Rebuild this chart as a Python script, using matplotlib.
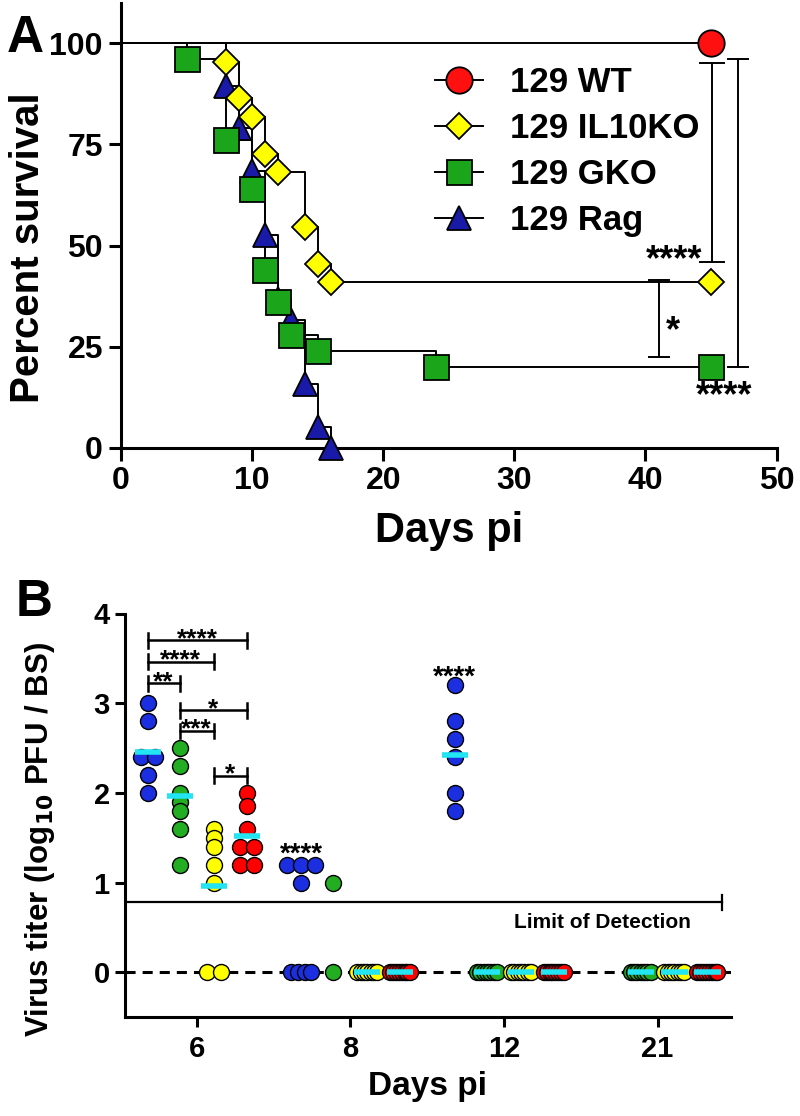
import numpy as np
import matplotlib
matplotlib.use('Agg')
import matplotlib.pyplot as plt
from matplotlib.lines import Line2D

# ---------------- Panel A data (Kaplan-Meier survival) ----------------
wt_days = [0, 45]
wt_surv = [100, 100]
il10_days = [0, 8, 9, 10, 11, 12, 14, 15, 16, 45]
il10_surv = [100, 95.45, 86.36, 81.82, 72.73, 68.18, 54.55, 45.45, 40.91, 40.91]
gko_days = [0, 5, 8, 10, 11, 12, 13, 15, 24, 45]
gko_surv = [100, 96, 76, 64, 44, 36, 28, 24, 20, 20]
rag_days = [0, 8, 9, 10, 11, 12, 13, 14, 15, 16]
rag_surv = [100, 89.47, 78.95, 68.42, 52.63, 36.84, 31.58, 15.79, 5.26, 0]
series_names = ['129 WT', '129 IL10KO', '129 GKO', '129 Rag']

# significance brackets (panel A)
a_sig_x = [45.07, 47.05, 41.03]
a_sig_lo = [45.9, 19.9, 22.4]
a_sig_hi = [95.2, 96.0, 41.5]
a_sig_text = ['****', '****', '*']
a_sig_text_x = [42.2, 45.98, 42.1]
a_sig_text_y = [48.9, 15.1, 31.3]

# ---------------- Panel B data (virus titer) ----------------
days_B = ['6', '8', '12', '21']
titer_rag = [[3.0, 2.8, 2.4, 2.4, 2.2, 2.0],
             [1.2, 1.2, 1.2, 1.0, 0, 0, 0, 0],
             [3.2, 2.8, 2.6, 2.4, 2.0, 1.8],
             []]
titer_gko = [[2.5, 2.3, 2.0, 1.9, 1.8, 1.6, 1.2],
             [1.0, 0],
             [0, 0, 0, 0, 0, 0, 0],
             [0, 0, 0, 0, 0, 0, 0]]
titer_il10 = [[1.6, 1.5, 1.4, 1.2, 1.0, 0, 0],
              [0, 0, 0, 0, 0, 0, 0],
              [0, 0, 0, 0, 0, 0, 0],
              [0, 0, 0, 0, 0, 0, 0]]
titer_wt = [[2.0, 1.85, 1.6, 1.4, 1.4, 1.2, 1.2],
            [0, 0, 0, 0, 0, 0, 0, 0],
            [0, 0, 0, 0, 0, 0, 0, 0],
            [0, 0, 0, 0, 0, 0, 0, 0]]
mean_rag = [2.45, None, 2.42, None]
mean_gko = [1.97, None, 0, 0]
mean_il10 = [0.96, 0, 0, 0]
mean_wt = [1.52, 0, 0, 0]
limit_of_detection = 0.78

# B significance (group index pairs at day 6)
b_sig_pairs = [(0, 3), (0, 2), (0, 1), (1, 3), (1, 2), (2, 3)]
b_sig_y = [3.70, 3.46, 3.22, 2.92, 2.69, 2.19]
b_sig_text = ['****', '****', '**', '*', '***', '*']
b_star_day = [1, 2]
b_star_y = [1.40, 3.38]

# ---------------- style ----------------
plt.rcParams['font.family'] = ['Liberation Sans', 'DejaVu Sans']
plt.rcParams['font.weight'] = 'bold'
plt.rcParams['axes.labelweight'] = 'bold'

W, H = 800, 1116
fig = plt.figure(figsize=(W / 100, H / 100), dpi=100)

def frac(l, t, r, b):
    return [l / W, 1 - b / H, (r - l) / W, (b - t) / H]

def stars(ax, x, y, t, size):
    # place asterisk glyphs so that their visual centre sits at (x, y)
    ax.annotate(t, (x, y), xytext=(0, -0.55 * size), textcoords='offset points',
                ha='center', va='baseline', fontsize=size, fontweight='bold',
                zorder=8, annotation_clip=False)

# ================= Panel A =================
axA = fig.add_axes(frac(121, 2.8, 776.6, 447.8))
axA.set_xlim(0, 50)
axA.set_ylim(0, 110)
for s in ['top', 'right']:
    axA.spines[s].set_visible(False)
for s in ['left', 'bottom']:
    axA.spines[s].set_linewidth(2.2)
axA.set_xticks([0, 10, 20, 30, 40, 50])
axA.set_yticks([0, 25, 50, 75, 100])
axA.tick_params(axis='both', length=9, width=2.2, labelsize=23, pad=4)

colsA = ['#ff1010', '#ffff00', '#1aa51a', '#1a1aa8']
mk = ['o', 'D', 's', '^']
ms = [19, 13.5, 18, 17]
datasets = [(wt_days, wt_surv), (il10_days, il10_surv), (gko_days, gko_surv), (rag_days, rag_surv)]

for d, s in datasets:
    axA.plot(d, s, drawstyle='steps-post', color='black', lw=1.4, zorder=2, clip_on=False)

zorders = [6, 5, 4, 3]
for (d, s), c, m, z, sz in zip(datasets, colsA, mk, zorders, ms):
    axA.plot(d[1:], s[1:], ls='none', marker=m, ms=sz, mfc=c, mec='black', mew=1.3,
             zorder=z, clip_on=False)

handles = [Line2D([], [], color='black', lw=1.4, marker=m, ms=sz, mfc=c, mec='black', mew=1.3)
           for c, m, sz in zip(colsA, mk, ms)]
axA.legend(handles, series_names, loc='upper left', bbox_to_anchor=(0.479, 0.857),
           frameon=False, handlelength=1.38, handletextpad=0.78,
           labelspacing=0.37, borderpad=0, borderaxespad=0,
           prop={'weight': 'bold', 'size': 25})

cap_w = [0.9, 0.76, 0.76]
for x, lo, hi, cw in zip(a_sig_x, a_sig_lo, a_sig_hi, cap_w):
    axA.plot([x, x], [lo, hi], color='black', lw=1.4, clip_on=False, zorder=7)
    axA.plot([x - cw, x + cw], [lo, lo], color='black', lw=1.4, clip_on=False, zorder=7)
    axA.plot([x - cw, x + cw], [hi, hi], color='black', lw=1.4, clip_on=False, zorder=7)
for t, x, y in zip(a_sig_text, a_sig_text_x, a_sig_text_y):
    stars(axA, x, y, t, 26)

axA.set_ylabel('Percent survival', fontsize=29, fontweight='bold', va='center')
axA.yaxis.set_label_coords(-0.142, 0.45)
axA.set_xlabel('Days pi', fontsize=30, fontweight='bold', va='center')
axA.xaxis.set_label_coords(0.5, -0.187)

fig.text(25 / W, 1 - 38 / H, 'A', fontsize=37, fontweight='bold', ha='center', va='center')

# ================= Panel B =================
axB = fig.add_axes(frac(125, 613.5, 731, 1017))
axB.set_xlim(-0.467, 3.478)
axB.set_ylim(-0.5, 4)
for s in ['top', 'right']:
    axB.spines[s].set_visible(False)
for s in ['left', 'bottom']:
    axB.spines[s].set_linewidth(2.2)
axB.set_xticks(range(len(days_B)))
axB.set_xticklabels(days_B)
axB.set_yticks([0, 1, 2, 3, 4])
axB.tick_params(axis='y', length=7, width=2.2, labelsize=21, pad=4)
axB.tick_params(axis='x', length=7, width=2.2, labelsize=21, pad=6)

px_x = (731 - 125) / (3.478 + 0.467)

def swarm_offsets(vals, tie=0.06, step_px=14, zero_span=20):
    """Spread tied values horizontally (GraphPad-like scatter)."""
    vals = np.asarray(vals, float)
    offs = np.zeros(len(vals))
    if len(vals) == 0:
        return offs
    order = np.argsort(-vals, kind='stable')
    clusters, cur = [], [order[0]]
    for a, b in zip(order[:-1], order[1:]):
        if abs(vals[a] - vals[b]) < tie:
            cur.append(b)
        else:
            clusters.append(cur)
            cur = [b]
    clusters.append(cur)
    for idx in clusters:
        n = len(idx)
        if n == 1:
            continue
        step = step_px
        if vals[idx[0]] == 0:
            step = min(step_px, zero_span / (n - 1))
        offs[idx] = (np.arange(n) - (n - 1) / 2) * step
    return offs / px_x

colsB = ['#1c2fe0', '#22ad22', '#ffff00', '#ff0000']
group_titers = [titer_rag, titer_gko, titer_il10, titer_wt]
group_means = [mean_rag, mean_gko, mean_il10, mean_wt]
group_off = [-0.32, -0.11, 0.11, 0.325]

axB.plot([-0.467, 3.478], [0, 0], color='black', lw=2.2, ls=(0, (3.3, 2.3)), zorder=1)

for gi, (tit, col, off) in enumerate(zip(group_titers, colsB, group_off)):
    for di, vals in enumerate(tit):
        if len(vals) == 0:
            continue
        xs = di + off + swarm_offsets(vals)
        axB.plot(xs, vals, ls='none', marker='o', ms=11.5, mfc=col, mec='black', mew=1.0,
                 zorder=3)

for gi, (means, off) in enumerate(zip(group_means, group_off)):
    for di, m in enumerate(means):
        if m is None:
            continue
        axB.plot([di + off - 0.085, di + off + 0.085], [m, m], color='#22e4f2', lw=4,
                 solid_capstyle='butt', zorder=4)

lod_end = 3.417
axB.plot([-0.467, lod_end], [limit_of_detection] * 2, color='black', lw=1.6, zorder=2)
axB.plot([lod_end, lod_end], [limit_of_detection - 0.083, limit_of_detection + 0.083],
         color='black', lw=1.6, zorder=2)
axB.text(2.64, 0.55, 'Limit of Detection', ha='center', va='center', fontsize=15,
         fontweight='bold')

for (g1, g2), y, t in zip(b_sig_pairs, b_sig_y, b_sig_text):
    x1, x2 = group_off[g1], group_off[g2]
    axB.plot([x1, x2], [y, y], color='black', lw=1.8, zorder=5)
    for xx in (x1, x2):
        axB.plot([xx, xx], [y - 0.083, y + 0.083], color='black', lw=1.8, zorder=5)
    stars(axB, (x1 + x2) / 2, y + 0.10, t, 19)

for di, y in zip(b_star_day, b_star_y):
    stars(axB, di + group_off[0], y, '****', 20)

axB.set_ylabel('Virus titer (log$_{\\mathbf{10}}$ PFU / BS)', fontsize=22.5, fontweight='bold',
               va='center')
axB.yaxis.set_label_coords((40 - 125) / 606, 0.44)
axB.set_xlabel('Days pi', fontsize=24, fontweight='bold', va='center')
axB.xaxis.set_label_coords(0.5, -(1087 - 1017) / 403.5)

fig.text(34 / W, 1 - 603 / H, 'B', fontsize=37, fontweight='bold', ha='center', va='center')

fig.savefig('out.png', dpi=100)
